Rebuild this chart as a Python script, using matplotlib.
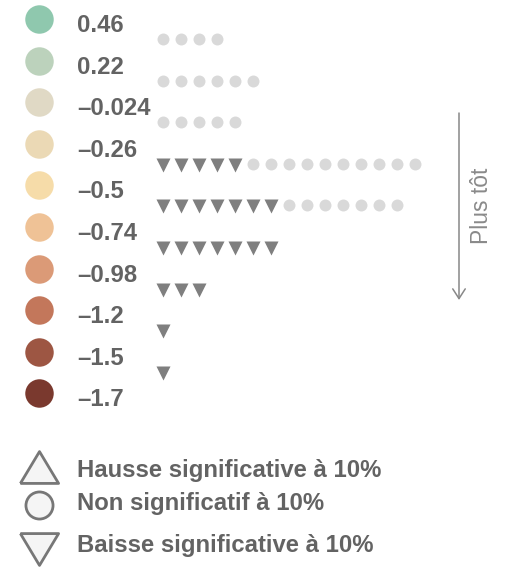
import matplotlib
matplotlib.use("Agg")
import matplotlib.pyplot as plt

# colour scale legend (values and colours, top to bottom)
scale_values = ["0.46", "0.22", "\u20130.024", "\u20130.26", "\u20130.5",
                "\u20130.74", "\u20130.98", "\u20131.2", "\u20131.5", "\u20131.7"]
scale_colors = ["#8fc8ae", "#bcd2bc", "#e0d9c5", "#ebd9b5", "#f6dca9",
                "#efc296", "#db9a77", "#c3775b", "#9d5643", "#7a392e"]

# per row: number of significant decreases, then non significant
n_down = [0, 0, 0, 5, 7, 7, 3, 1, 1]
n_ns = [4, 6, 5, 10, 7, 0, 0, 0, 0]

shape_labels = ["Hausse significative \u00e0 10%",
                "Non significatif \u00e0 10%",
                "Baisse significative \u00e0 10%"]

plt.rcParams["font.family"] = ["Liberation Sans", "DejaVu Sans"]
text_col = "#636363"

fig = plt.figure(figsize=(5.11, 5.67), dpi=100)
ax = fig.add_axes([0, 0, 1, 1])
ax.set_xlim(0, 511)
ax.set_ylim(567, 0)
ax.axis("off")

# colour legend on the left
step = 41.6
for k, (v, c) in enumerate(zip(scale_values, scale_colors)):
    cy = 19 + k * step
    ax.plot(39, cy, "o", ms=20.5, color=c, mec="none")
    ax.text(77, cy + 13, v, fontsize=17.2, fontweight="bold", color=text_col, va="baseline")

# rows of markers
for r in range(len(n_down)):
    cy = 39 + r * step
    xs_d = [163 + 18 * i for i in range(n_down[r])]
    xs_n = [163 + 18 * (n_down[r] + i) for i in range(n_ns[r])]
    ax.plot(xs_d, [cy + 1] * len(xs_d), "v", ms=10.2, color="#7f7f7f", mec="none", ls="none")
    ax.plot(xs_n, [cy] * len(xs_n), "o", ms=8.6, color="#d9d9d9", mec="none", ls="none")

# arrow on the right
ax.annotate("", xy=(459, 300), xytext=(459, 113),
            arrowprops=dict(arrowstyle="->,head_length=0.7,head_width=0.45",
                            color="#888888", lw=1.1, shrinkA=0, shrinkB=0))
ax.text(481, 206, "Plus t\u00f4t", rotation=90, fontsize=16.5, color="#8a8a8a",
        ha="center", va="center")

# shape legend at the bottom (wide triangles)
tri_up = [(-1.2, -1), (1.2, -1), (0, 1), (-1.2, -1)]
tri_down = [(-1.2, 1), (1.2, 1), (0, -1), (-1.2, 1)]
shape_markers = [tri_up, "o", tri_down]
shape_y = [467, 505, 549]
shape_ms = [27.5, 19.5, 27.5]
base_y = [477, 510, 552]
for m, y, s, lab, by in zip(shape_markers, shape_y, shape_ms, shape_labels, base_y):
    ax.plot(39, y, marker=m, ms=s, mfc="#f5f5f5", mec="#777777", mew=2, ls="none")
    ax.text(77, by, lab, fontsize=17.2, fontweight="bold", color=text_col, va="baseline")

fig.savefig("out.png", dpi=100)
